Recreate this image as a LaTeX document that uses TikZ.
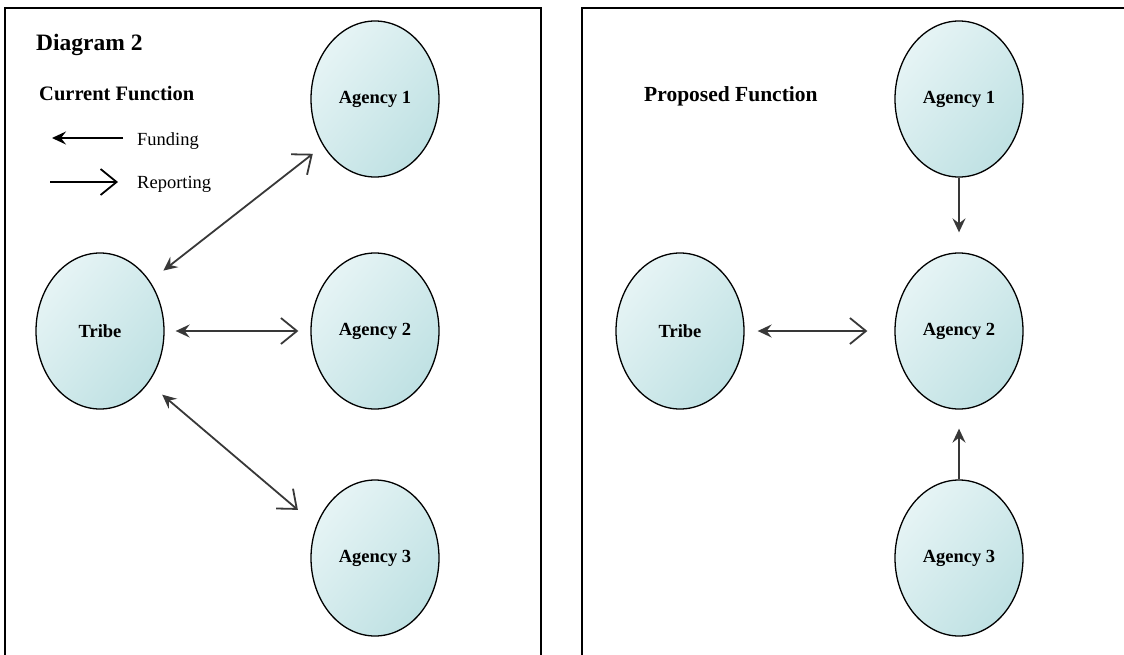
\documentclass[tikz,border=0pt]{standalone}
\usepackage{fontspec}
\setmainfont{Liberation Serif}
\usetikzlibrary{arrows.meta,shapes.geometric}
\definecolor{shadeL}{HTML}{E6F4F5}
\definecolor{shadeM}{HTML}{DCEFF0}
\definecolor{shadeD}{HTML}{BFE1E3}
\definecolor{connc}{HTML}{383838}
\tikzset{
  fundtip/.tip={Stealth[length=14pt,width=13pt,inset=5pt]},
  reptip/.tip={Straight Barb[length=16pt,width=26pt]},
}
\begin{document}
\begin{tikzpicture}[x=1pt,y=-1pt,
  frame/.style={draw=black,line width=2.2pt},
  org/.style={ellipse,draw=black,line width=1.3pt,minimum width=128pt,minimum height=156pt,
    inner sep=0pt,left color=shadeL,middle color=shadeM,right color=shadeD,shading angle=50,
    font=\fontsize{18.5}{22}\selectfont\bfseries},
  titletxt/.style={anchor=base west,inner sep=0pt,font=\fontsize{23.5}{27}\selectfont\bfseries},
  subtxt/.style={anchor=base west,inner sep=0pt,font=\fontsize{20.5}{24}\selectfont\bfseries},
  legtxt/.style={anchor=base west,inner sep=0pt,font=\fontsize{18.5}{22}\selectfont},
  legline/.style={draw=black,line width=1.8pt},
  connline/.style={draw=connc,line width=1.8pt},
]
\useasboundingbox (0,0) rectangle (1124,654);
% panel frames
\draw[frame] (5,670) -- (5,8) -- (541,8) -- (541,670);
\draw[frame] (582,670) -- (582,8) -- (1140,8);

% left panel texts and legend
\node[titletxt] (d2) at (36,50) {Diagram 2};
\node[subtxt] (cf) at (39,100) {Current Function};
\coordinate (fa) at (123,138);
\coordinate (fb) at (52,138);
\draw[legline,-{fundtip}] (fa) -- (fb);
\node[legtxt] (fl) at (137,145) {Funding};
\coordinate (ra) at (50,182);
\coordinate (rb) at (118,182);
\draw[legline,-{reptip}] (ra) -- (rb);
\node[legtxt] (rl) at (137,188) {Reporting};

% left panel nodes
\node[org] (ag1L) at (375,99) {Agency 1};
\node[org] (tribeL) at (100,331) {Tribe};
\node[org] (ag2L) at (375,331) {Agency 2};
\node[org] (ag3L) at (375,558) {Agency 3};

\draw[connline,{fundtip}-{reptip},shorten <=17pt,shorten >=13pt] (tribeL.45) -- (ag1L.222);
\draw[connline,{fundtip}-{reptip},shorten <=11pt,shorten >=12pt] (tribeL.east) -- (ag2L.west);
\draw[connline,{fundtip}-{reptip},shorten <=18pt,shorten >=24pt] (tribeL.313) -- (ag3L.151);

% right panel
\node[subtxt,font=\fontsize{21.5}{25}\selectfont\bfseries] (pf) at (644,101) {Proposed Function};
\node[org] (tribeR) at (680,331) {Tribe};
\node[org] (ag1R) at (959,99) {Agency 1};
\node[org] (ag2R) at (959,331) {Agency 2};
\node[org] (ag3R) at (959,558) {Agency 3};

\draw[connline,{fundtip}-{reptip},shorten <=13pt,shorten >=27pt] (tribeR.east) -- (ag2R.west);
\draw[connline,-{fundtip},shorten >=20pt] (ag1R.south) -- (ag2R.north);
\draw[connline,-{fundtip},shorten >=19pt] (ag3R.north) -- (ag2R.south);
\end{tikzpicture}
\end{document}
